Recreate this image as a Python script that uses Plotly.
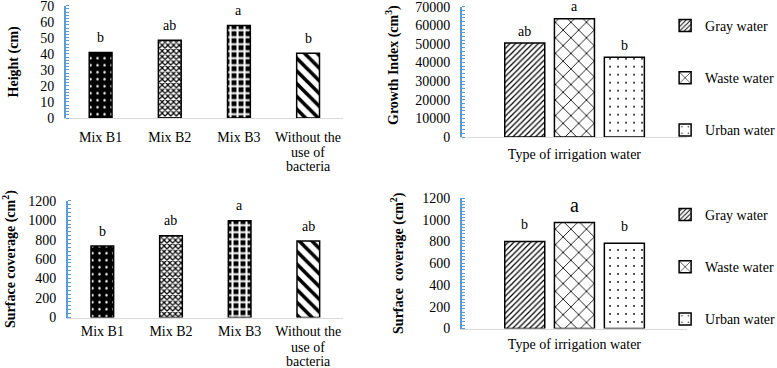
import plotly.graph_objects as go

# ---------------- data ----------------
bact_categories = ["Mix B1", "Mix B2", "Mix B3", "Without the use of bacteria"]
bact_label_lines = [["Mix B1"], ["Mix B2"], ["Mix B3"], ["Without the", "use of", "bacteria"]]
height_values = [40.8, 48.5, 57.6, 40.3]
height_letters = ["b", "ab", "a", "b"]
bact_surface_values = [734, 840, 995, 786]
bact_surface_letters = ["b", "ab", "a", "ab"]

water_types = ["Gray water", "Waste water", "Urban water"]
water_axis_label = "Type of irrigation water"
growth_values = [50450, 63550, 42900]
growth_letters = ["ab", "a", "b"]
water_surface_values = [800, 975, 785]
water_surface_letters = ["b", "a", "b"]

height_ticks = [0, 10, 20, 30, 40, 50, 60, 70]
growth_ticks = [0, 10000, 20000, 30000, 40000, 50000, 60000, 70000]
surface_ticks = [0, 200, 400, 600, 800, 1000, 1200]

# ---------------- styles ----------------
FONT = "Liberation Serif, Times New Roman, serif"
AXBLUE = "#5B9BD5"
BASEGREY = "#D9D9D9"

bact_patterns = [
    dict(shape=".", bgcolor="black", fgcolor="white", size=7, solidity=0.1),
    dict(shape="x", bgcolor="white", fgcolor="black", size=4, solidity=0.5),
    dict(shape="+", bgcolor="black", fgcolor="white", size=7, solidity=0.5),
    dict(shape="\\", bgcolor="white", fgcolor="black", size=9, solidity=0.4),
]
water_patterns = [
    dict(shape="/", bgcolor="white", fgcolor="black", size=4, solidity=0.3),
    dict(shape="x", bgcolor="white", fgcolor="black", size=11, solidity=0.15),
    dict(shape=".", bgcolor="white", fgcolor="black", size=8, solidity=0.04),
]
water_offsets = [-0.31, -0.089, 0.133]
water_width = 0.178

fig = go.Figure()

# --- left panels: one bar trace per category ---
for vals, xa, ya in [(height_values, "x", "y"), (bact_surface_values, "x3", "y3")]:
    for i, c in enumerate(bact_categories):
        p = bact_patterns[i]
        fig.add_trace(go.Bar(
            x=[c], y=[vals[i]], xaxis=xa, yaxis=ya, width=0.33,
            marker=dict(color=p["bgcolor"], line=dict(color="black", width=1.5),
                        pattern=dict(shape=p["shape"], bgcolor=p["bgcolor"],
                                     fgcolor=p["fgcolor"], size=p["size"],
                                     solidity=p["solidity"], fillmode="replace")),
            showlegend=False, name=c))

# --- right panels (three traces per panel) ---
for vals, xa, ya, lg in [(growth_values, "x2", "y2", "legend"),
                         (water_surface_values, "x4", "y4", "legend2")]:
    for i, name in enumerate(water_types):
        p = water_patterns[i]
        fig.add_trace(go.Bar(
            x=[water_axis_label], y=[vals[i]], name=name, xaxis=xa, yaxis=ya,
            offset=water_offsets[i], width=water_width,
            legend=lg, legendgroup=lg + name,
            marker=dict(color="white", line=dict(color="black", width=1.5),
                        pattern=dict(shape=p["shape"], bgcolor=p["bgcolor"],
                                     fgcolor=p["fgcolor"], size=p["size"],
                                     solidity=p["solidity"], fillmode="replace"))))

# --- letters above bars ---
ann = []
for cats, vals, letters, xa, ya in [
    (bact_categories, height_values, height_letters, "x", "y"),
    (bact_categories, bact_surface_values, bact_surface_letters, "x3", "y3")]:
    for c, v, l in zip(cats, vals, letters):
        ann.append(dict(x=c, y=v, text=l, xref=xa, yref=ya, showarrow=False,
                        yanchor="middle", yshift=15,
                        font=dict(family=FONT, size=14, color="black")))
for vals, letters, xa, ya, big in [
    (growth_values, growth_letters, "x2", "y2", False),
    (water_surface_values, water_surface_letters, "x4", "y4", True)]:
    for i, (v, l) in enumerate(zip(vals, letters)):
        sz = 20 if (big and l == "a") else 14
        shift = 17 if big else 12
        ann.append(dict(x=water_offsets[i] + water_width / 2, y=v, text=l,
                        xref=xa, yref=ya, showarrow=False,
                        yanchor="middle", yshift=shift,
                        font=dict(family=FONT, size=sz, color="black")))

# --- extra lines of multi-line category labels (tight line spacing) ---
for xa, ya, first in [("x", "y", 19.5), ("x3", "y3", 15)]:
    for c, lines in zip(bact_categories, bact_label_lines):
        for k, line in enumerate(lines[1:], start=1):
            ann.append(dict(x=c, y=0, text=line, xref=xa, yref=ya,
                            showarrow=False, yanchor="middle",
                            yshift=-(first + 14.5 * k),
                            font=dict(family=FONT, size=14, color="black")))

# --- growth-index axis title (placed high, as in the original) ---
ann.append(dict(x=393 / 777, y=1 - 65 / 368, xref="paper", yref="paper",
                text="Growth Index (cm<sup>3</sup>)", textangle=-90,
                showarrow=False, xanchor="center", yanchor="middle",
                font=dict(family=FONT, size=14, color="black", weight="bold")))

def yaxis_style(domain, anchor, rng, ticks, minor_dt, title, standoff):
    return dict(domain=domain, anchor=anchor, range=rng, tickvals=ticks,
                tickformat="d", automargin=False, ticklabeloverflow="allow",
                showgrid=False, zeroline=False, showline=True,
                linecolor=AXBLUE, linewidth=2, ticks="", ticklabelstandoff=7,
                tickfont=dict(family=FONT, size=14, color="black"),
                minor=dict(dtick=minor_dt, ticks="inside", ticklen=3,
                           tickcolor=AXBLUE, tickwidth=1, showgrid=False),
                title=dict(text=title, standoff=standoff,
                           font=dict(family=FONT, size=14, color="black",
                                     weight="bold")),
                fixedrange=True)

def xaxis_style(domain, anchor, standoff, ticktext=None):
    d = dict(domain=domain, anchor=anchor, showgrid=False, zeroline=False,
             automargin=False, showline=True, linecolor=BASEGREY, linewidth=1,
             ticks="", ticklabelstandoff=standoff,
             tickfont=dict(family=FONT, size=14, color="black"),
             fixedrange=True)
    if ticktext is not None:
        d["tickmode"] = "array"
        d["tickvals"] = bact_categories
        d["ticktext"] = ticktext
    return d

first_lines = [lines[0] for lines in bact_label_lines]
LEGEND_FONT = dict(family=FONT, size=14, color="black")

fig.update_layout(
    width=777, height=368,
    margin=dict(l=0, r=0, t=0, b=0, autoexpand=False),
    paper_bgcolor="white", plot_bgcolor="white", barmode="overlay",
    font=dict(family=FONT, size=14, color="black"),
    xaxis=xaxis_style([0.085, 0.441], "y", 6, first_lines),
    yaxis=yaxis_style([1 - 118 / 368, 1 - 5.7 / 368], "x", [0, 70],
                      height_ticks, 2, "Height (cm)", 18),
    xaxis2=xaxis_style([0.5946, 0.884], "y2", 4),
    yaxis2=yaxis_style([1 - 137 / 368, 1 - 6.7 / 368], "x2", [0, 70000],
                       growth_ticks, 2000, "", 12),
    xaxis3=xaxis_style([0.0875, 0.441], "y3", 1, first_lines),
    yaxis3=yaxis_style([1 - 317.5 / 368, 1 - 200.7 / 368], "x3", [0, 1200],
                       surface_ticks, 40, "Surface coverage (cm<sup>2</sup>)", 14),
    xaxis4=xaxis_style([0.5946, 0.884], "y4", 3),
    yaxis4=yaxis_style([1 - 328.5 / 368, 1 - 198 / 368], "x4", [0, 1200],
                       surface_ticks, 30, "Surface\u00a0 coverage (cm<sup>2</sup>)", 15),
    annotations=ann,
    legend=dict(x=0.856, y=1 - 10 / 368, xanchor="left", yanchor="top",
                tracegroupgap=31, itemwidth=30, font=LEGEND_FONT,
                bgcolor="rgba(0,0,0,0)"),
    legend2=dict(x=0.856, y=1 - 199 / 368, xanchor="left", yanchor="top",
                 tracegroupgap=31, itemwidth=30, font=LEGEND_FONT,
                 bgcolor="rgba(0,0,0,0)"),
)
for ax in ["xaxis2", "xaxis4"]:
    fig.layout[ax].range = [-0.5, 0.5]

# remove the browser's default page margin so the figure fills the window
fig.write_html("out.html", config={"displayModeBar": False},
               post_script="document.body.style.margin='0';")
